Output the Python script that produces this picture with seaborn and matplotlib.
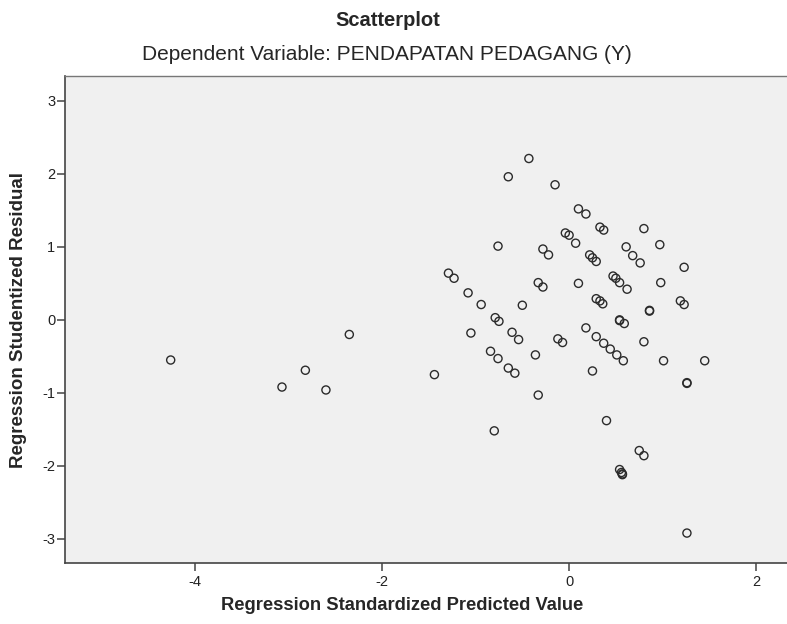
import pandas as pd
import seaborn as sns
import matplotlib.pyplot as plt

predicted = [-4.26, -3.07, -2.82, -2.60, -2.35, -1.44, -0.43, -0.65, -0.15, 0.10,
             -0.04, 0.00, 0.07, -0.76, -0.28, -0.22, -1.29, -1.23, 0.18, 0.33,
             0.37, 0.80, 0.97, 0.61, 0.68, 0.76, 1.23, 0.22, 0.25, 0.29,
             0.47, 0.50, 0.54, 0.62, 0.98, -1.08, -0.94, -0.50, -0.79, -0.75,
             -0.33, -0.28, 0.10, -1.05, -0.61, -0.54, -0.12, -0.07, -0.84, -0.76,
             -0.36, -0.65, -0.58, -0.33, 0.29, 0.33, 0.36, 0.86, 0.86, 1.19,
             1.23, 0.54, 0.54, 0.59, 0.18, 0.29, 0.37, 0.44, 0.51, 0.58,
             0.80, 1.01, 1.45, 0.25, 1.26, 1.26, 0.40, 0.75, 0.80, 0.54,
             0.57, 0.57, 0.56, 1.26, -0.80]
residual = [-0.55, -0.92, -0.69, -0.96, -0.20, -0.75, 2.21, 1.96, 1.85, 1.52,
            1.19, 1.16, 1.05, 1.01, 0.97, 0.89, 0.64, 0.57, 1.45, 1.27,
            1.23, 1.25, 1.03, 1.00, 0.88, 0.78, 0.72, 0.89, 0.85, 0.80,
            0.60, 0.57, 0.51, 0.42, 0.51, 0.37, 0.21, 0.20, 0.03, -0.02,
            0.51, 0.45, 0.50, -0.18, -0.17, -0.27, -0.26, -0.31, -0.43, -0.53,
            -0.48, -0.66, -0.73, -1.03, 0.29, 0.26, 0.22, 0.13, 0.12, 0.26,
            0.21, -0.01, 0.00, -0.05, -0.11, -0.23, -0.32, -0.40, -0.48, -0.56,
            -0.30, -0.56, -0.56, -0.70, -0.86, -0.87, -1.38, -1.79, -1.86, -2.05,
            -2.11, -2.12, -2.09, -2.92, -1.52]

x_ticks = [-4, -2, 0, 2]
y_ticks = [-3, -2, -1, 0, 1, 2, 3]

df = pd.DataFrame({'pred': predicted, 'resid': residual})

sns.set_theme(style="white")
plt.rcParams['font.family'] = ['Liberation Sans', 'DejaVu Sans']
plt.rcParams['axes.unicode_minus'] = False

fig = plt.figure(figsize=(7.87, 6.24), dpi=100)
ax = fig.add_axes([65 / 787, 1 - 563 / 624, 722 / 787, 487 / 624])
ax.set_facecolor('#F0F0F0')

sns.scatterplot(data=df, x='pred', y='resid', ax=ax, marker='o', s=34,
                facecolor='none', edgecolor='#2b2b2b', linewidth=1.0)

ax.set_xlim(-5.39, 2.33)
ax.set_ylim(-3.33, 3.34)
ax.set_xticks(x_ticks)
ax.set_yticks(y_ticks)

for side in ['left', 'bottom']:
    ax.spines[side].set_color('#444444')
    ax.spines[side].set_linewidth(1.2)
ax.spines['top'].set_color('#777777')
ax.spines['top'].set_linewidth(1.0)
ax.spines['right'].set_visible(False)

ax.tick_params(axis='both', which='major', bottom=True, left=True, top=False, right=False,
               direction='out', length=6, width=1.1, color='#444444',
               labelsize=10.5, labelcolor='#222222')
ax.tick_params(axis='x', pad=3)
ax.tick_params(axis='y', pad=1)

ax.set_xlabel('Regression Standardized Predicted Value', fontsize=13.2, fontweight='bold')
ax.set_ylabel('Regression Studentized Residual', fontsize=13.5, fontweight='bold')
ax.xaxis.set_label_coords((402 - 65) / 722, -(597 - 563) / 487)
ax.yaxis.set_label_coords(-(65 - 27) / 722, (563 - 320) / 487)

fig.text(388 / 787, 1 - 21 / 624, 'Scatterplot', ha='center', va='center',
         fontsize=14.5, fontweight='bold')
fig.text(387 / 787, 1 - 55 / 624, 'Dependent Variable: PENDAPATAN PEDAGANG (Y)',
         ha='center', va='center', fontsize=15)

fig.savefig('out.png', dpi=100, facecolor='white')
